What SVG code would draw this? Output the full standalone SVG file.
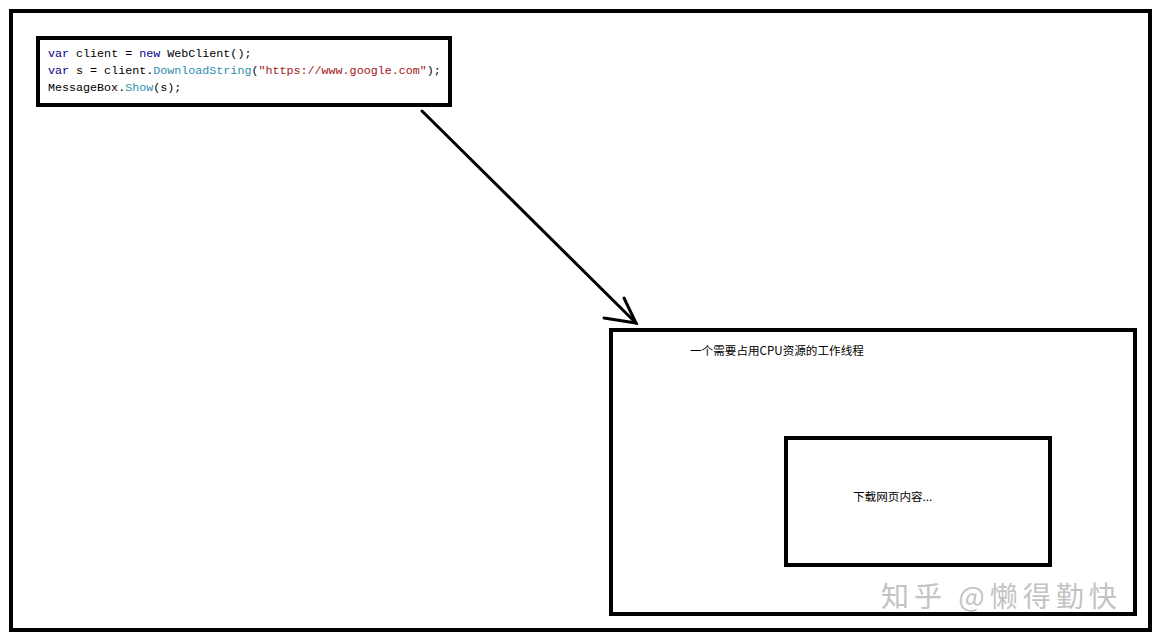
<svg xmlns="http://www.w3.org/2000/svg" width="1163" height="644" viewBox="0 0 1163 644">
<style>
.box{fill:#fff;stroke:#000;stroke-width:4}
.code{font-family:"Liberation Mono",monospace;font-size:11.7px;fill:#000}
.kw{fill:#00008b}
.ty{fill:#2b91af}
.str{fill:#a31515}
.cjk{font-family:"SimSun","Noto Sans CJK SC",sans-serif;font-size:11.6px;fill:#000}
.wm{font-family:"Noto Sans CJK SC",sans-serif;font-size:28px;fill:#aaa;opacity:0.7;letter-spacing:5px}
.conn{fill:none;stroke:#000;stroke-width:3;stroke-linecap:round}
</style>
<rect x="0" y="0" width="1163" height="644" fill="#fff"/>
<rect id="frame" x="11" y="11" width="1139" height="619" fill="none" stroke="#000" stroke-width="4"/>
<g id="code-node">
<rect class="box" x="38" y="38" width="412" height="67"/>
<text class="code" x="48" y="57"><tspan class="kw">var</tspan> client = <tspan class="kw">new</tspan> WebClient();</text>
<text class="code" x="48" y="74"><tspan class="kw">var</tspan> s = client.<tspan class="ty">DownloadString</tspan>(<tspan class="str">"https://www.google.com"</tspan>);</text>
<text class="code" x="48" y="91">MessageBox.<tspan class="ty">Show</tspan>(s);</text>
</g>
<g id="connectors">
<line class="conn" x1="422" y1="111" x2="636" y2="323"/>
<polyline class="conn" points="624,298 636,323 604,318"/>
</g>
<g id="worker-node">
<rect class="box" x="611" y="330" width="524" height="284"/>
<text class="cjk" x="690" y="355">一个需要占用CPU资源的工作线程</text>
</g>
<g id="download-node">
<rect class="box" x="786" y="438" width="264" height="127"/>
<text class="cjk" x="853" y="501">下载网页内容...</text>
</g>
<text class="wm" x="881" y="607">知乎 @懒得勤快</text>
</svg>
